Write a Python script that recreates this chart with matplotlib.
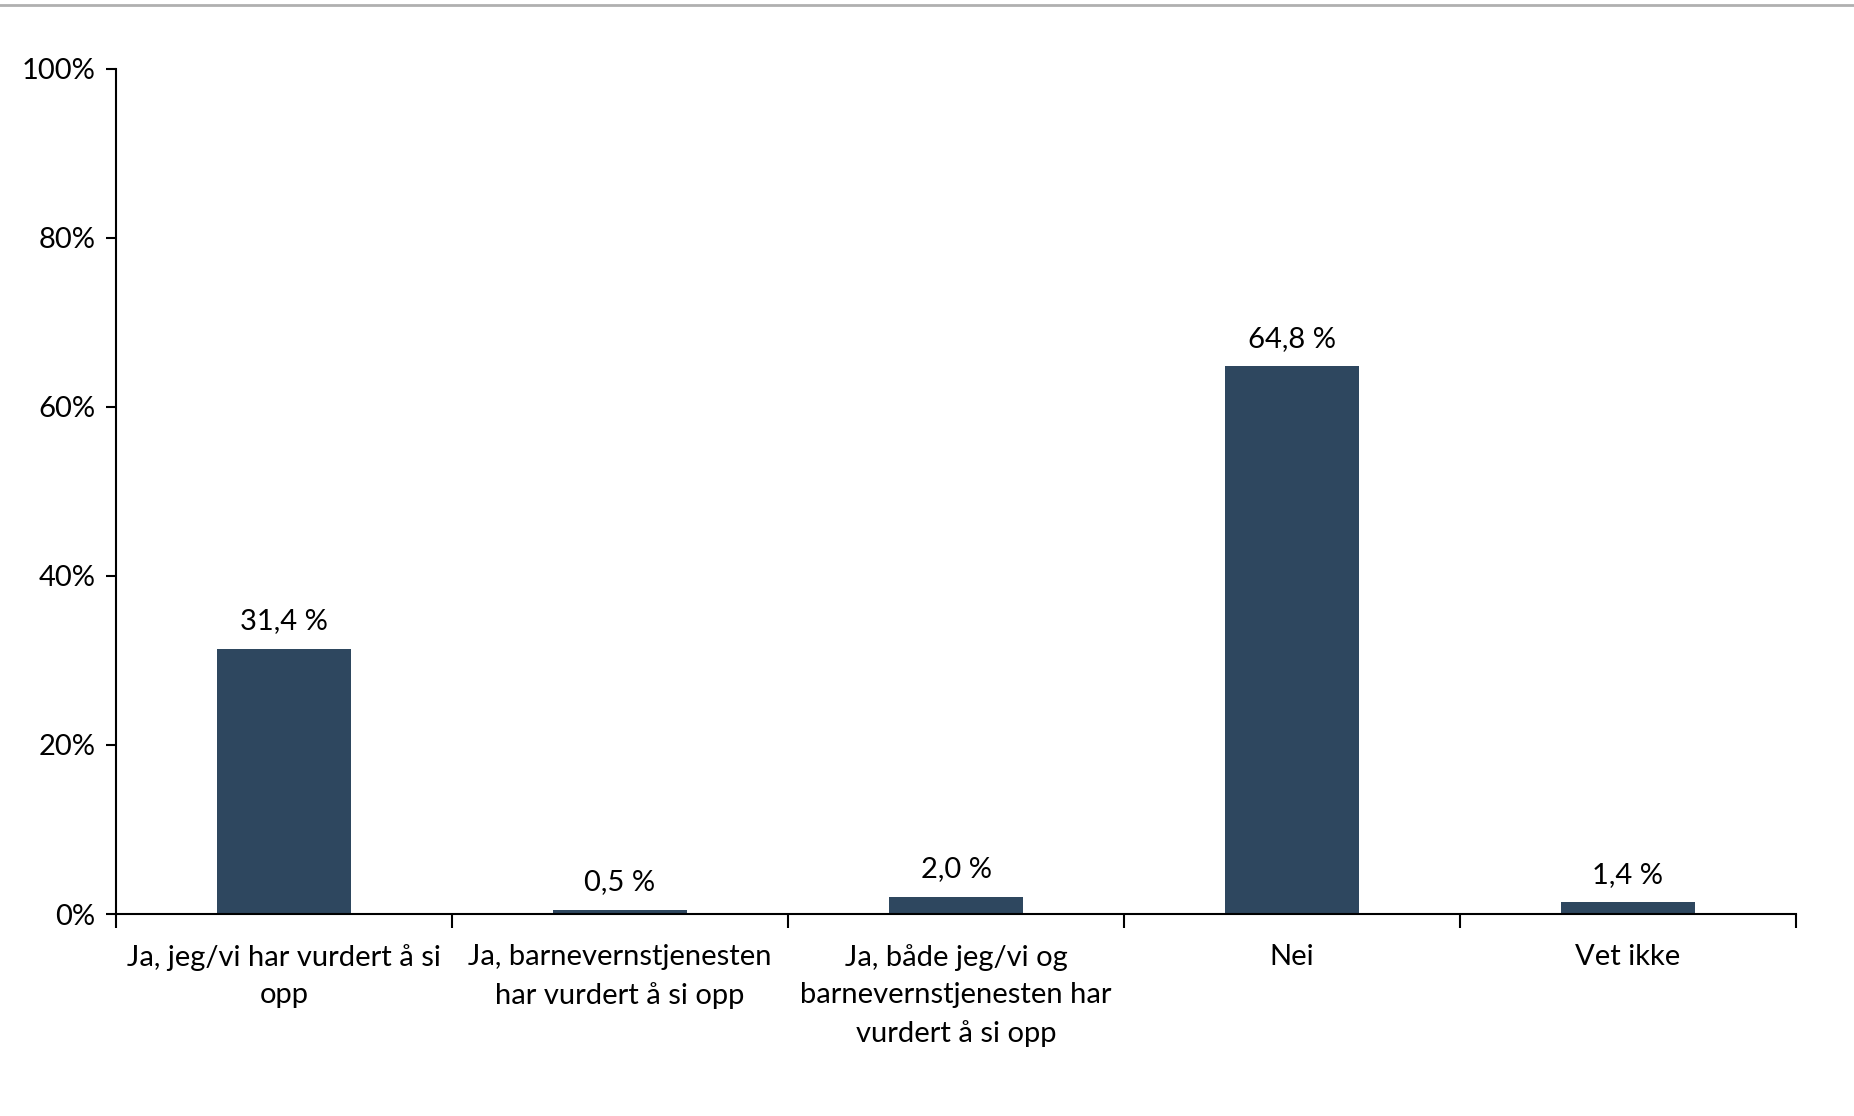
import matplotlib.pyplot as plt
from matplotlib.lines import Line2D
from matplotlib.ticker import PercentFormatter

plt.rcParams['font.family'] = ['Lato', 'DejaVu Sans']

categories = [
    "Ja, jeg/vi har vurdert å si\nopp",
    "Ja, barnevernstjenesten\nhar vurdert å si opp",
    "Ja, både jeg/vi og\nbarnevernstjenesten har\nvurdert å si opp",
    "Nei",
    "Vet ikke",
]
values = [31.4, 0.5, 2.0, 64.8, 1.4]
value_labels = ["31,4 %", "0,5 %", "2,0 %", "64,8 %", "1,4 %"]

bar_color = "#2e475f"

fig = plt.figure(figsize=(18.54, 11.16), dpi=100)
ax = fig.add_axes([0.0626, 0.181, 0.9061, 0.7575])

x = list(range(len(categories)))
bars = ax.bar(x, values, width=0.4, color=bar_color)

for b, lab in zip(bars, value_labels):
    ax.annotate(lab, (b.get_x() + b.get_width() / 2, b.get_height()),
                xytext=(0, 10.5), textcoords="offset points",
                ha="center", va="bottom", fontsize=21)

ax.set_xlim(-0.5, len(categories) - 0.5)
ax.set_ylim(0, 100)
ax.set_yticks([0, 20, 40, 60, 80, 100])
ax.yaxis.set_major_formatter(PercentFormatter(decimals=0))
ax.tick_params(axis="y", labelsize=21, length=7, width=1.5, pad=8)

# category boundaries as tick marks, labels at centres
ax.set_xticks([i + 0.5 for i in range(-1, len(categories))])
ax.set_xticklabels([])
ax.set_xticks(x, minor=True)
ax.set_xticklabels(categories, minor=True, fontsize=21, linespacing=1.55)
ax.tick_params(axis="x", which="major", length=10, width=1.5, direction="out")
ax.tick_params(axis="x", which="minor", length=0, pad=21.5)

for s in ["top", "right"]:
    ax.spines[s].set_visible(False)
for s in ["left", "bottom"]:
    ax.spines[s].set_linewidth(1.5)

fig.add_artist(Line2D([0, 1], [1 - 5 / 1116, 1 - 5 / 1116],
                      transform=fig.transFigure, color="#b0b0b0", linewidth=2))

fig.savefig("out.png", dpi=100)
